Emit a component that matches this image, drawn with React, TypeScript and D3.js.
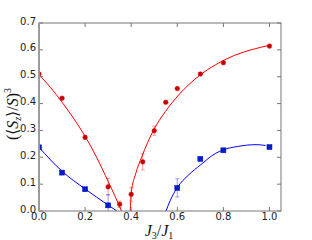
import React from 'react';
import * as d3 from 'd3';

// measured points
const redX = [0, 0.1, 0.2, 0.3, 0.35, 0.4, 0.45, 0.5, 0.55, 0.6, 0.7, 0.8, 1.0];
const redY = [0.51, 0.42, 0.274, 0.09, 0.025, 0.062, 0.183, 0.299, 0.405, 0.456, 0.51, 0.552, 0.614];
const redErr = [0, 0, 0, 0.031, 0.012, 0.025, 0.03, 0.017, 0, 0, 0, 0, 0];

const blueX = [0, 0.1, 0.2, 0.3, 0.6, 0.7, 0.8, 1.0];
const blueY = [0.237, 0.143, 0.081, 0.021, 0.086, 0.194, 0.226, 0.238];
const blueErr = [0, 0, 0, 0.04, 0.034, 0, 0, 0];

// fitted curves
const redFit1X = [0, 0.05, 0.1, 0.15, 0.2, 0.25, 0.3, 0.33, 0.358];
const redFit1Y = [0.507, 0.46, 0.405, 0.345, 0.278, 0.2, 0.11, 0.055, 0];
const redFit2X = [0.396, 0.4, 0.42, 0.446, 0.497, 0.548, 0.606, 0.7, 0.765, 0.85, 0.92, 1.0];
const redFit2Y = [0, 0.065, 0.14, 0.202, 0.301, 0.37, 0.432, 0.507, 0.544, 0.58, 0.6, 0.617];
const blueFit1X = [0, 0.1, 0.2, 0.3, 0.338];
const blueFit1Y = [0.237, 0.148, 0.082, 0.022, 0];
const blueFit2X = [0.551, 0.57, 0.599, 0.65, 0.7, 0.765, 0.8, 0.86, 0.942, 0.983];
const blueFit2Y = [0, 0.04, 0.086, 0.135, 0.171, 0.214, 0.228, 0.24, 0.247, 0.244];

const xTicks = [0, 0.2, 0.4, 0.6, 0.8, 1.0];
const yTicks = [0, 0.1, 0.2, 0.3, 0.4, 0.5, 0.6, 0.7];

const W = 312;
const H = 240;
const m = { left: 39, right: 281, top: 23, bottom: 211 };

const App = () => {
  const x = d3.scaleLinear().domain([0, 1.05]).range([m.left, m.right]);
  const y = d3.scaleLinear().domain([0, 0.7]).range([m.bottom, m.top]);

  const line = d3
    .line<[number, number]>()
    .x((d) => x(d[0]))
    .y((d) => y(d[1]))
    .curve(d3.curveMonotoneX);

  const zip = (a: number[], b: number[]) => a.map((v, i) => [v, b[i]] as [number, number]);

  const spine = '#777';
  const tickLen = 4;

  return (
    <svg width={W} height={H} style={{ position: 'absolute', left: 0, top: 0 }} fontFamily="DejaVu Sans">
      <defs>
        <clipPath id="plot">
          <rect x={m.left} y={m.top} width={m.right - m.left} height={m.bottom - m.top} />
        </clipPath>
      </defs>
      <rect width={W} height={H} fill="white" />

      <g clipPath="url(#plot)">
        {/* error bars */}
        {redX.map((v, i) =>
          redErr[i] > 0 ? (
            <g key={'re' + i} stroke="rgba(255,60,60,0.5)" strokeWidth={1}>
              <line x1={x(v)} x2={x(v)} y1={y(redY[i] - redErr[i])} y2={y(redY[i] + redErr[i])} />
              <line x1={x(v) - 2} x2={x(v) + 2} y1={y(redY[i] - redErr[i])} y2={y(redY[i] - redErr[i])} />
              <line x1={x(v) - 2} x2={x(v) + 2} y1={y(redY[i] + redErr[i])} y2={y(redY[i] + redErr[i])} />
            </g>
          ) : null
        )}
        {blueX.map((v, i) =>
          blueErr[i] > 0 ? (
            <g key={'be' + i} stroke="rgba(60,60,255,0.5)" strokeWidth={1}>
              <line x1={x(v)} x2={x(v)} y1={y(blueY[i] - blueErr[i])} y2={y(blueY[i] + blueErr[i])} />
              <line x1={x(v) - 2} x2={x(v) + 2} y1={y(blueY[i] - blueErr[i])} y2={y(blueY[i] - blueErr[i])} />
              <line x1={x(v) - 2} x2={x(v) + 2} y1={y(blueY[i] + blueErr[i])} y2={y(blueY[i] + blueErr[i])} />
            </g>
          ) : null
        )}

        <path d={line(zip(redFit1X, redFit1Y)) || ''} fill="none" stroke="#ff0000" strokeWidth={1} />
        <path d={line(zip(redFit2X, redFit2Y)) || ''} fill="none" stroke="#ff0000" strokeWidth={1} />
        <path d={line(zip(blueFit1X, blueFit1Y)) || ''} fill="none" stroke="#0000ff" strokeWidth={1} />
        <path d={line(zip(blueFit2X, blueFit2Y)) || ''} fill="none" stroke="#0000ff" strokeWidth={1} />

        {redX.map((v, i) => (
          <circle key={'r' + i} cx={x(v)} cy={y(redY[i])} r={2.3} fill="#c40000" stroke="#e00000" strokeWidth={0.5} />
        ))}
        {blueX.map((v, i) => (
          <rect key={'b' + i} x={x(v) - 2.5} y={y(blueY[i]) - 2.5} width={5} height={5} fill="#0020c0" stroke="#0000e0" strokeWidth={0.5} />
        ))}
      </g>

      {/* ticks */}
      <g stroke={spine} strokeWidth={1}>
        {xTicks.map((t) => (
          <g key={'xt' + t}>
            <line x1={x(t)} x2={x(t)} y1={m.bottom} y2={m.bottom - tickLen} />
            <line x1={x(t)} x2={x(t)} y1={m.top} y2={m.top + tickLen} />
          </g>
        ))}
        {yTicks.map((t) => (
          <g key={'yt' + t}>
            <line x1={m.left} x2={m.left + tickLen} y1={y(t)} y2={y(t)} />
            <line x1={m.right} x2={m.right - tickLen} y1={y(t)} y2={y(t)} />
          </g>
        ))}
      </g>

      {/* spines */}
      <rect x={m.left} y={m.top} width={m.right - m.left} height={m.bottom - m.top} fill="none" stroke={spine} strokeWidth={1} />
      <line x1={m.left} x2={m.left} y1={m.top} y2={m.bottom} stroke="#999" strokeWidth={1.8} />

      {/* tick labels */}
      <g fontSize={10} fill="#222">
        {xTicks.map((t) => (
          <text key={'xl' + t} x={x(t)} y={m.bottom + 8.5} textAnchor="middle">
            {d3.format('.1f')(t)}
          </text>
        ))}
        {yTicks.map((t) => (
          <text key={'yl' + t} x={m.left - 3} y={y(t) + 1.5} textAnchor="end">
            {d3.format('.1f')(t)}
          </text>
        ))}
      </g>

      {/* axis labels */}
      <text x={159} y={236} textAnchor="middle" fontFamily="Liberation Serif" fontSize={16} fill="#111">
        <tspan fontStyle="italic">J</tspan>
        <tspan fontSize={10} dy={3}>3</tspan>
        <tspan dy={-3}>/</tspan>
        <tspan fontStyle="italic">J</tspan>
        <tspan fontSize={10} dy={3}>1</tspan>
      </text>
      <text
        transform="translate(18,114) rotate(-90)"
        textAnchor="middle"
        fontFamily="Liberation Serif"
        fontSize={16}
        fill="#111"
      >
        <tspan>(⟨</tspan>
        <tspan fontStyle="italic">S</tspan>
        <tspan fontSize={10} dy={3} fontStyle="italic">z</tspan>
        <tspan dy={-3}>⟩/</tspan>
        <tspan fontStyle="italic">S</tspan>
        <tspan>)</tspan>
        <tspan fontSize={10} dy={-7}>3</tspan>
      </text>
    </svg>
  );
};

export default App;
